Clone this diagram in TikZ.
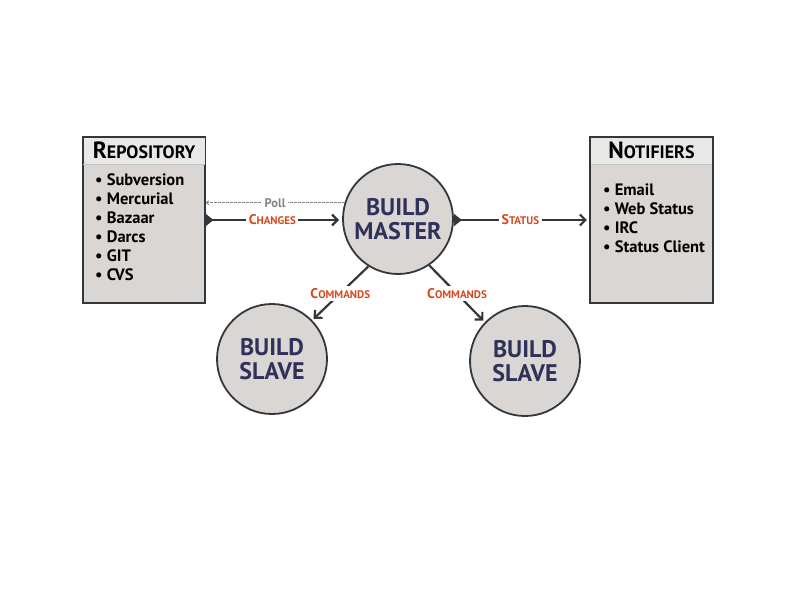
\documentclass[tikz,border=0pt]{standalone}
\usepackage{fontspec}
\setmainfont{PT Sans}
\usetikzlibrary{arrows.meta}
\definecolor{navy}{HTML}{2E3158}
\definecolor{orangered}{HTML}{D8481A}
\definecolor{linegrey}{HTML}{33373B}
\definecolor{fillgrey}{HTML}{D9D6D3}
\definecolor{hdrgrey}{HTML}{E8E9E7}
\definecolor{pollgrey}{HTML}{80848A}
\tikzset{
  box/.style={draw=linegrey, line width=1.2pt, fill=fillgrey, minimum width=122pt, minimum height=165pt, inner sep=0pt},
  hdr/.style={fill=hdrgrey, minimum width=121pt, minimum height=26pt, inner sep=0pt, anchor=north, text=black},
  listtext/.style={anchor=north west, align=left, inner sep=0pt, font=\fontsize{16.5}{19}\selectfont\bfseries, text=black},
  bignode/.style={circle, draw=linegrey, line width=1.8pt, fill=fillgrey, minimum size=110pt, inner sep=0pt, align=center, text=navy, font=\fontsize{24}{23.5}\selectfont\bfseries},
  arr/.style={draw=linegrey, line width=2.2pt, -{Straight Barb[length=5.5pt,width=11pt]}},
  starttri/.style={{Triangle[reversed,length=8pt,width=12pt]}-{Straight Barb[length=5.5pt,width=11pt]}},
  lbl/.style={fill=white, inner sep=2.5pt, text=orangered, font=\bfseries},
  pollarr/.style={draw=pollgrey, line width=0.8pt, dash pattern=on 2.5pt off 1.5pt, -{Straight Barb[length=2.5pt,width=4pt]}},
  polllbl/.style={fill=white, inner sep=2.5pt, text=pollgrey, font=\fontsize{12.5}{12.5}\selectfont\bfseries}
}
\newcommand{\sclbl}[2]{{\fontsize{14}{14}\selectfont #1}{\fontsize{11}{14}\selectfont #2}}
\newcommand{\schdr}[2]{{\fontsize{23.5}{26}\selectfont\bfseries #1}{\fontsize{18}{26}\selectfont\bfseries #2}}
\begin{document}
\begin{tikzpicture}[x=1pt,y=-1pt]
\useasboundingbox (0,0) rectangle (800,600);
% Repository
\node[box] (repo) at (144,220) {};
\node[hdr] (repohdr) at ([yshift=-0.6pt]repo.north) {\schdr{R}{EPOSITORY}};
\draw[draw=white!70!linegrey, line width=0.6pt] (repohdr.south west) -- (repohdr.south east);
\draw[draw=linegrey, line width=1.2pt] (repo.north west) rectangle (repo.south east);
\node[listtext] (repolist) at (95,174) {• Subversion\\• Mercurial\\• Bazaar\\• Darcs\\• GIT\\• CVS};
% Notifiers
\node[box] (notif) at (651.5,220) {};
\node[hdr] (notifhdr) at ([yshift=-0.6pt]notif.north) {\schdr{N}{OTIFIERS}};
\draw[draw=white!70!linegrey, line width=0.6pt] (notifhdr.south west) -- (notifhdr.south east);
\draw[draw=linegrey, line width=1.2pt] (notif.north west) rectangle (notif.south east);
\node[listtext] (notiflist) at (603,184) {• Email\\• Web Status\\• IRC\\• Status Client};
% Circles
\node[bignode] (master) at (398,219) {BUILD\\MASTER};
\node[bignode] (slave1) at (272,359) {BUILD\\SLAVE};
\node[bignode] (slave2) at (525,361) {BUILD\\SLAVE};
% Connectors
\draw[arr, starttri] (repo.east) -- node[lbl] {\sclbl{C}{HANGES}} ([xshift=-3pt]repo.east -| master.west);
\draw[pollarr] (master.163) -- node[polllbl] {Poll} (master.163 -| repo.east);
\draw[arr, starttri] (repo.east -| master.east) -- node[lbl] {\sclbl{S}{TATUS}} ([xshift=-3pt]notif.west);
\draw[arr, shorten >=2pt] (master.238) -- node[lbl] {\sclbl{C}{OMMANDS}} (slave1.44);
\draw[arr, shorten >=2pt] (master.304) -- node[lbl] {\sclbl{C}{OMMANDS}} (slave2.136);
\end{tikzpicture}
\end{document}
